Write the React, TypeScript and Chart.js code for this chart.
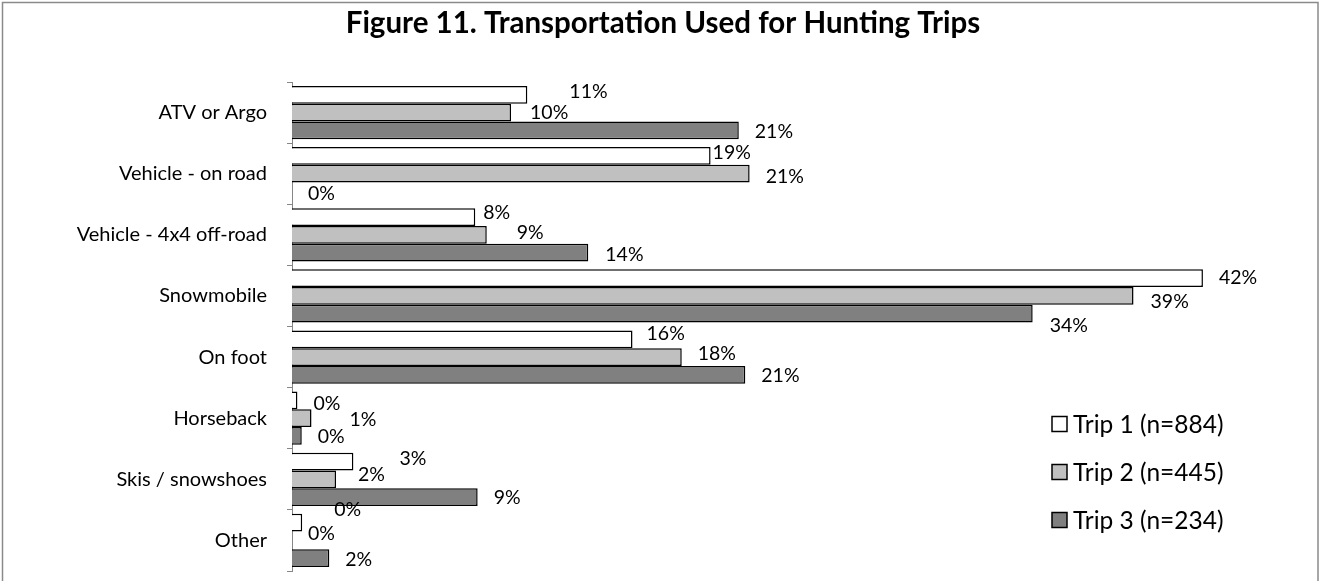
import React, { useEffect, useRef } from "react";
import { Chart, registerables } from "chart.js";

Chart.register(...registerables);

const categories = [
  "ATV or Argo",
  "Vehicle - on road",
  "Vehicle - 4x4 off-road",
  "Snowmobile",
  "On foot",
  "Horseback",
  "Skis / snowshoes",
  "Other",
];

const seriesNames = ["Trip 1 (n=884)", "Trip 2 (n=445)", "Trip 3 (n=234)"];

// percentages (bar lengths; labels are rounded)
const trip1 = [10.85, 19.3, 8.45, 42.0, 15.7, 0.25, 2.83, 0.47];
const trip2 = [10.1, 21.1, 8.98, 38.8, 17.97, 0.9, 2.03, 0];
const trip3 = [20.6, 0, 13.66, 34.15, 20.9, 0.45, 8.56, 1.72];

// label nudges relative to the default "outside end" placement
const nudgeX1 = [26, -14, -8, 0, -2, 0, 30, 16];
const nudgeY1 = [-3, -3, -4, 0, -6, 3, -3, -13];
const nudgeX2 = [3, 0, 14, 1, 0, 22, 6, 0];
const nudgeY2 = [0, 3, -2, 6, -3, 2, -5, -7];
const nudgeX3 = [0, 0, 1, 1, 0, 0, 0, 0];
const nudgeY3 = [1, 2, 2, 12, 1, 1, 1, 2];

const fills = ["#ffffff", "#c0c0c0", "#808080"];
const FONT = "Lato, 'Open Sans', sans-serif";
const TITLE = "Figure 11. Transportation Used for Hunting Trips";

export default function App() {
  const ref = useRef<HTMLCanvasElement | null>(null);

  useEffect(() => {
    if (!ref.current) return;
    const nudgesX = [nudgeX1, nudgeX2, nudgeX3];
    const nudgesY = [nudgeY1, nudgeY2, nudgeY3];

    const decor = {
      id: "decor",
      beforeDraw(chart: any) {
        const ctx = chart.ctx;
        ctx.save();
        ctx.fillStyle = "#ffffff";
        ctx.fillRect(0, 0, chart.width, chart.height);
        ctx.restore();
      },
      afterDatasetsDraw(chart: any) {
        const ctx = chart.ctx;
        ctx.save();
        ctx.font = `19.5px ${FONT}`;
        ctx.fillStyle = "#000";
        ctx.textAlign = "left";
        ctx.textBaseline = "middle";
        chart.data.datasets.forEach((ds: any, di: number) => {
          const meta = chart.getDatasetMeta(di);
          meta.data.forEach((el: any, i: number) => {
            const v = ds.data[i] as number;
            const txt = Math.round(v) + "%";
            ctx.fillText(txt, el.x + 16 + nudgesX[di][i], el.y + nudgesY[di][i]);
          });
        });
        ctx.restore();
      },
      afterDraw(chart: any) {
        const ctx = chart.ctx;
        ctx.save();
        // title
        ctx.font = `bold 29.5px ${FONT}`;
        ctx.fillStyle = "#000";
        ctx.textAlign = "center";
        ctx.textBaseline = "middle";
        ctx.fillText(TITLE, 663, 23);
        // legend
        ctx.font = `24.5px ${FONT}`;
        ctx.textAlign = "left";
        chart.data.datasets.forEach((ds: any, di: number) => {
          const cy = 424 + di * 48;
          ctx.fillStyle = ds.backgroundColor;
          ctx.fillRect(1052, cy - 7.5, 15, 15);
          ctx.strokeStyle = "#000";
          ctx.lineWidth = 1.5;
          ctx.strokeRect(1052, cy - 7.5, 15, 15);
          ctx.fillStyle = "#000";
          ctx.fillText(ds.label, 1073, cy + 1);
        });
        // outer border
        ctx.strokeStyle = "#8a8a8a";
        ctx.lineWidth = 1.5;
        ctx.strokeRect(2.5, 2.5, 1315.5, 620);
        ctx.restore();
      },
    };

    const chart = new Chart(ref.current, {
      type: "bar",
      data: {
        labels: categories,
        datasets: [trip1, trip2, trip3].map((d, i) => ({
          label: seriesNames[i],
          data: d,
          backgroundColor: fills[i],
          borderColor: "#000000",
          borderWidth: 1.5,
          borderSkipped: "start" as const,
          categoryPercentage: 0.87,
          barPercentage: 1.0,
        })),
      },
      options: {
        indexAxis: "y",
        animation: false,
        responsive: false,
        layout: { padding: { left: 0, top: 82, right: 52, bottom: 10 } },
        plugins: {
          legend: { display: false },
          title: { display: false },
          tooltip: { enabled: false },
        },
        scales: {
          x: { display: false, min: 0, max: 45 },
          y: {
            afterFit(scale: any) {
              scale.width = 292;
              scale.paddingTop = 0;
              scale.paddingBottom = 0;
            },
            grid: {
              display: true,
              drawOnChartArea: false,
              drawTicks: true,
              tickLength: 5,
              color: "#868686",
              offset: true,
            },
            border: { display: true, color: "#868686", width: 1 },
            ticks: {
              color: "#000",
              padding: 20,
              font: { family: FONT, size: 20 },
            },
          },
        },
      },
      plugins: [decor],
    });
    return () => chart.destroy();
  }, []);

  return (
    <div style={{ position: "absolute", left: 0, top: 0, width: 1320, height: 581 }}>
      <canvas ref={ref} width={1320} height={581} />
    </div>
  );
}
